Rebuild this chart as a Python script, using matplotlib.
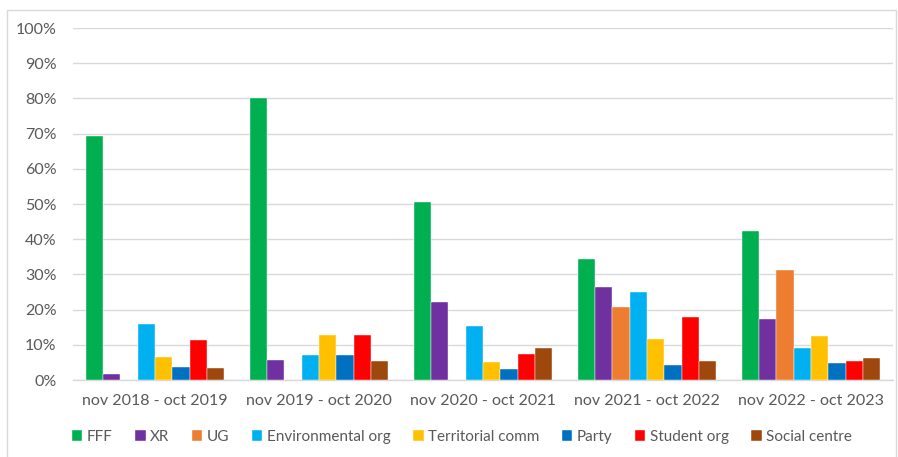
import matplotlib.pyplot as plt
import numpy as np
from matplotlib.patches import Rectangle

periods = ["nov 2018 - oct 2019", "nov 2019 - oct 2020", "nov 2020 - oct 2021",
           "nov 2021 - oct 2022", "nov 2022 - oct 2023"]
series_names = ["FFF", "XR", "UG", "Environmental org", "Territorial comm",
                "Party", "Student org", "Social centre"]
fff = [69.3, 80.2, 50.5, 34.4, 42.2]
xr = [1.6, 5.7, 22.3, 26.3, 17.4]
ug = [0.0, 0.0, 0.0, 20.8, 31.2]
env = [15.9, 7.1, 15.3, 24.9, 9.0]
terr = [6.5, 12.8, 5.2, 11.7, 12.6]
party = [3.6, 7.1, 3.1, 4.2, 4.8]
student = [11.3, 12.8, 7.3, 17.8, 5.5]
social = [3.4, 5.5, 9.0, 5.3, 6.2]
colors = ["#00B050", "#7030A0", "#ED7D31", "#00B0F0", "#FFC000",
          "#0070C0", "#FF0000", "#9E480E"]
yticks = [0, 10, 20, 30, 40, 50, 60, 70, 80, 90, 100]

plt.rcParams['font.family'] = ['Lato', 'DejaVu Sans']

fig = plt.figure(figsize=(8.98, 4.57), dpi=100)
W, H = 898, 457
ax = fig.add_axes([73 / W, 1 - 380 / H, 820 / W, 352 / H])

all_series = [fff, xr, ug, env, terr, party, student, social]
x = np.arange(len(periods))
bw = 0.1055
for i, (vals, c, name) in enumerate(zip(all_series, colors, series_names)):
    offs = (i - 3.5) * bw
    ax.bar(x + offs, vals, width=bw, color=c, label=name, zorder=3,
           edgecolor='white', linewidth=0.3)

ax.set_xlim(-0.5, len(periods) - 0.5)
ax.set_ylim(0, 100)
ax.set_yticks(yticks)
ax.set_yticklabels([f"{t}%" for t in yticks])
ax.set_xticks(x)
ax.set_xticklabels(periods)
ax.yaxis.grid(True, color='#D9D9D9', linewidth=1.0, zorder=0)
ax.set_axisbelow(True)
for s in ['top', 'right', 'left']:
    ax.spines[s].set_visible(False)
ax.spines['bottom'].set_color('#D9D9D9')
ax.spines['bottom'].set_linewidth(1.0)
ax.tick_params(axis='both', length=0, labelsize=11.5, labelcolor='#595959')
ax.tick_params(axis='y', pad=12)
ax.tick_params(axis='x', pad=10)

fig.legend(loc='center', bbox_to_anchor=(462 / W, 1 - 437 / H), ncol=8,
           frameon=False, fontsize=11, handlelength=0.7, handleheight=0.7,
           handletextpad=0.3, columnspacing=1.45, labelcolor='#595959')

fig.patches.append(Rectangle((7 / W, -0.05), (896 - 7) / W, 1.05 - 10 / H,
                             transform=fig.transFigure, fill=False,
                             edgecolor='#D9D9D9', linewidth=1.0))

fig.savefig('out.png', dpi=100)
